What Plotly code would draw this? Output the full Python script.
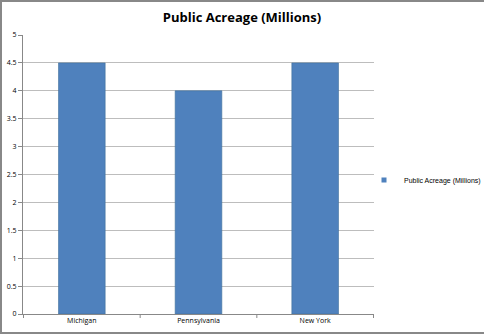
import plotly.graph_objects as go

states = ["Michigan", "Pennsylvania", "New York"]
acreage = [4.5, 4.0, 4.5]
y_ticks = [0, 0.5, 1, 1.5, 2, 2.5, 3, 3.5, 4, 4.5, 5]
y_tick_labels = ["0", "0.5", "1", "1.5", "2", "2.5", "3", "3.5", "4", "4.5", "5"]
series_name = "Public Acreage (Millions)"
bar_color = "#4F81BD"

W, H = 484, 335
L, R, T, B = 23, 110, 35, 21
pw, ph = W - L - R, H - T - B

fig = go.Figure()
fig.add_trace(
    go.Bar(
        x=states,
        y=acreage,
        name=series_name,
        legendgroup="s",
        showlegend=False,
        marker=dict(color=bar_color, line=dict(color="#41719C", width=0.6)),
    )
)
# Small square legend key for the bar series
fig.add_trace(
    go.Scatter(
        x=[None],
        y=[None],
        mode="markers",
        name=series_name,
        legendgroup="s",
        marker=dict(symbol="square", size=5, color=bar_color),
    )
)

fig.update_layout(
    width=W,
    height=H,
    margin=dict(l=L, r=R, t=T, b=B, autoexpand=False),
    paper_bgcolor="white",
    plot_bgcolor="white",
    bargap=0.6,
    showlegend=True,
    font=dict(family="Open Sans, Liberation Sans, sans-serif", size=8, color="#000"),
    title=dict(
        text="<b>Public Acreage (Millions)</b>",
        x=0.5,
        xanchor="center",
        y=1 - 17 / H,
        yanchor="middle",
        font=dict(size=13, family="Open Sans, Liberation Sans, sans-serif", color="#000"),
    ),
    legend=dict(
        x=(364 - L) / pw,
        y=(314 - 180) / ph,
        xanchor="left",
        yanchor="middle",
        font=dict(size=7, color="#000", family="Liberation Sans, Arial, sans-serif"),
        itemwidth=30,
        bgcolor="rgba(0,0,0,0)",
    ),
    xaxis=dict(
        showline=True,
        linecolor="#888",
        linewidth=1,
        ticks="",
        showgrid=False,
        tickfont=dict(size=7),
    ),
    yaxis=dict(
        range=[0, 5],
        tickvals=y_ticks,
        ticktext=y_tick_labels,
        showline=True,
        linecolor="#888",
        linewidth=1,
        ticks="outside",
        ticklen=4,
        tickcolor="#888",
        showgrid=True,
        gridcolor="#BDBDBD",
        gridwidth=1,
        zeroline=False,
        tickfont=dict(size=7),
    ),
)

# Category divider ticks below the x axis
for i in range(len(states) + 1):
    fig.add_shape(
        type="line",
        xref="x",
        yref="paper",
        x0=i - 0.5,
        x1=i - 0.5,
        y0=0,
        y1=-4 / ph,
        line=dict(color="#888", width=1),
    )

# Chart frame
fig.add_shape(
    type="rect",
    xref="paper",
    yref="paper",
    x0=(1 - L) / pw,
    x1=(W + 2 - L) / pw,
    y0=(314 - 333) / ph,
    y1=(314 - 1) / ph,
    line=dict(color="#888", width=2),
    fillcolor="rgba(0,0,0,0)",
    layer="below",
)

fig.write_html("out.html")
